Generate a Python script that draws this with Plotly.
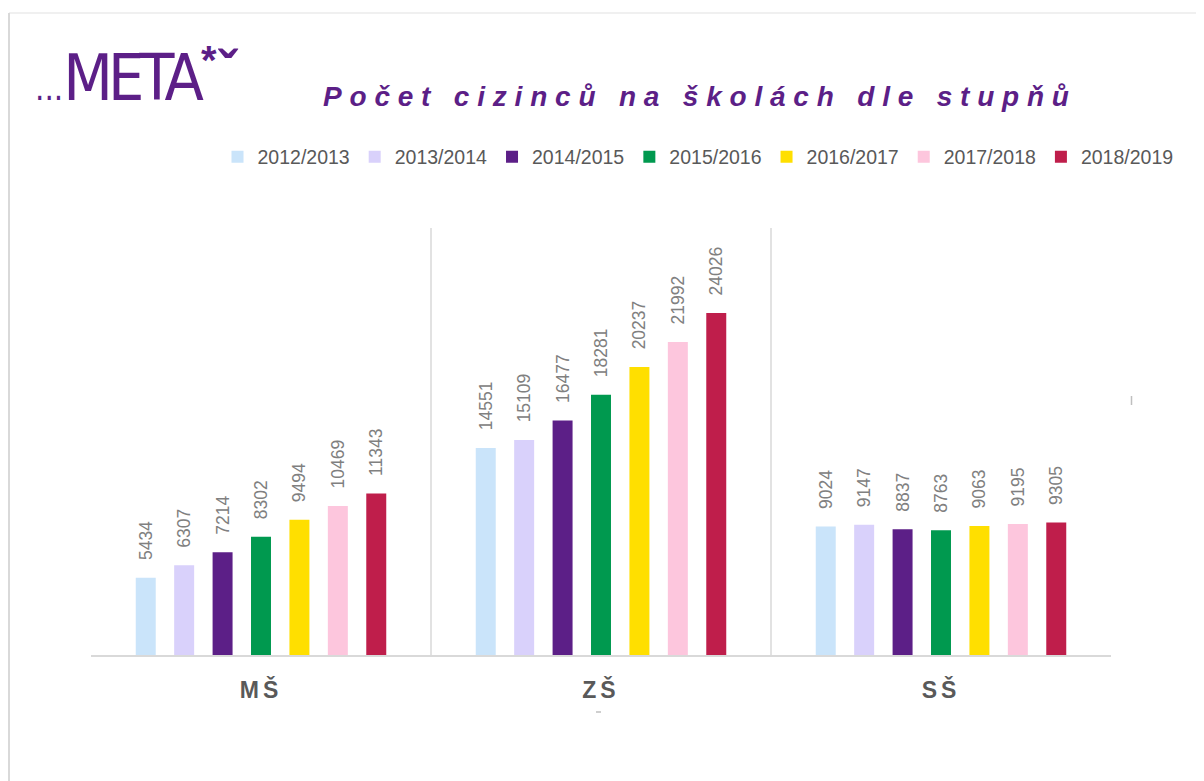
import plotly.graph_objects as go

# ---- data ----
categories = ["MŠ", "ZŠ", "SŠ"]
years = ["2012/2013", "2013/2014", "2014/2015", "2015/2016", "2016/2017", "2017/2018", "2018/2019"]
v_2012 = [5434, 14551, 9024]
v_2013 = [6307, 15109, 9147]
v_2014 = [7214, 16477, 8837]
v_2015 = [8302, 18281, 8763]
v_2016 = [9494, 20237, 9063]
v_2017 = [10469, 21992, 9195]
v_2018 = [11343, 24026, 9305]
series = [v_2012, v_2013, v_2014, v_2015, v_2016, v_2017, v_2018]
colors = ["#CAE4FA", "#D9D1FB", "#5C1F87", "#00994F", "#FFDF00", "#FDC6DD", "#BF1E4B"]

# page is offset by the 8px default body margin
OFF = 8
W, H = 1204 - OFF, 781 - OFF
L, R, T, B = 91 - OFF, 93, 228 - OFF, 126
PW, PH = W - L - R, H - T - B


def px_x(x):  # page x -> paper
    return (x - OFF - L) / PW


def px_y(y):  # page y -> paper
    return (H - B - (y - OFF)) / PH


purple = "#5C1F87"
PAD = "\u00a0\u00a0\u00a0"  # spacing between bar top and its label

fig = go.Figure()
for name, vals, col in zip(years, series, colors):
    fig.add_trace(go.Bar(
        x=categories, y=vals, name=name,
        marker=dict(color=col, line=dict(width=0)),
        text=[PAD + str(v) for v in vals],
        texttemplate="%{text}",
        textposition="outside", textangle=-90,
        constraintext="none", cliponaxis=False,
        textfont=dict(family="Liberation Sans, Arial", size=17.5, color="#808080"),
        hoverinfo="x+y+name",
    ))

shapes = []
for xs in [0.5, 1.5]:
    shapes.append(dict(type="line", xref="x", yref="paper", x0=xs, x1=xs, y0=0, y1=1,
                       line=dict(color="#D9D9D9", width=1.5)))
shapes.append(dict(type="line", xref="paper", yref="paper", x0=px_x(9), x1=px_x(1204),
                   y0=px_y(13), y1=px_y(13), line=dict(color="#EBEBEB", width=1.5)))
shapes.append(dict(type="line", xref="paper", yref="paper", x0=px_x(9), x1=px_x(9),
                   y0=px_y(13), y1=px_y(781), line=dict(color="#D9D9D9", width=2)))
shapes.append(dict(type="line", xref="paper", yref="paper", x0=px_x(1131.5), x1=px_x(1131.5),
                   y0=px_y(396), y1=px_y(405), line=dict(color="#BFBFBF", width=1.5)))
shapes.append(dict(type="line", xref="paper", yref="paper", x0=px_x(596), x1=px_x(601),
                   y0=px_y(712), y1=px_y(712), line=dict(color="#BFBFBF", width=1.5)))

title_text = "Počet cizinců na školách dle stupňů"
annotations = [
    dict(text='<span style="letter-spacing:7.8px">' + title_text + '</span>',
         xref="paper", yref="paper", x=px_x(700), y=px_y(96),
         xanchor="center", yanchor="middle", showarrow=False,
         font=dict(family="Liberation Sans, Arial", size=28, color=purple,
                   weight="bold", style="italic")),
    dict(text='<span style="font-size:33px">...</span><span style="letter-spacing:-5px">META</span>',
         xref="paper", yref="paper", x=px_x(33), y=px_y(117),
         xanchor="left", yanchor="bottom", showarrow=False,
         font=dict(family="DejaVu Sans Condensed, Liberation Sans, Arial", size=64, color=purple)),
    dict(text="*",
         xref="paper", yref="paper", x=px_x(199), y=px_y(36),
         xanchor="left", yanchor="top", showarrow=False,
         font=dict(family="Liberation Sans, Arial", size=40, color=purple, weight="bold")),
    dict(text="ˇ",
         xref="paper", yref="paper", x=px_x(216), y=px_y(37),
         xanchor="left", yanchor="top", showarrow=False,
         font=dict(family="Liberation Sans, Arial", size=56, color=purple, weight="bold")),
]

fig.update_layout(
    width=W, height=H,
    margin=dict(l=L, r=R, t=T, b=B),
    paper_bgcolor="white", plot_bgcolor="white",
    barmode="group", bargap=0.209, bargroupgap=0.48,
    showlegend=True,
    legend=dict(orientation="h", x=px_x(698), xanchor="center", y=px_y(157), yanchor="middle",
                font=dict(family="Liberation Sans, Arial", size=19.5, color="#595959"),
                itemwidth=30, traceorder="normal", bgcolor="rgba(0,0,0,0)"),
    xaxis=dict(showline=True, linecolor="#D9D9D9", linewidth=2, showgrid=False, ticks="",
               ticktext=['<span style="letter-spacing:4px">' + c + '</span>' for c in categories],
               tickvals=categories,
               tickfont=dict(family="Liberation Sans, Arial", size=23, color="#595959", weight="bold"),
               ticklabelstandoff=13, fixedrange=True),
    yaxis=dict(range=[0, 30000], visible=False, showgrid=False, zeroline=False, fixedrange=True),
    shapes=shapes, annotations=annotations,
    font=dict(family="Liberation Sans, Arial"),
)

fig.write_html("out.html")
